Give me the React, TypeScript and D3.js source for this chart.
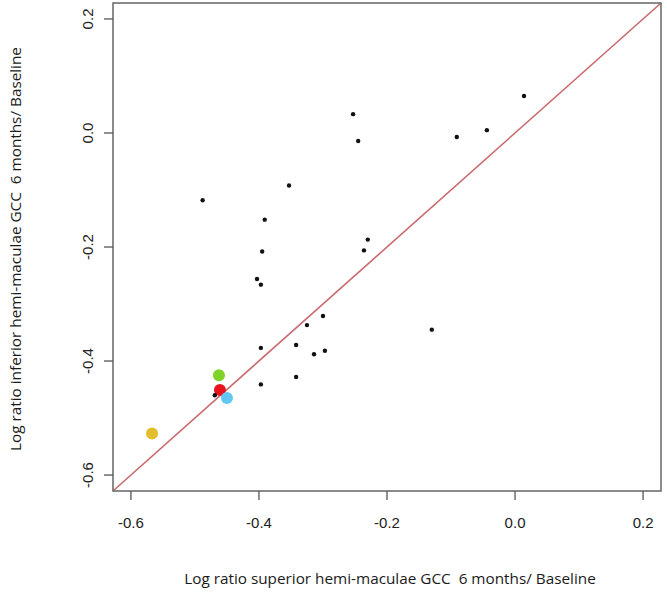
import { scaleLinear, format } from "d3";

// black points: superior (x) vs inferior (y) log ratios
const superiorValues = [
  0.014, -0.253, -0.245, -0.091, -0.044, -0.353, -0.488, -0.391, -0.395,
  -0.23, -0.236, -0.403, -0.397, -0.3, -0.325, -0.13, -0.397, -0.342,
  -0.314, -0.297, -0.342, -0.397,
];
const inferiorValues = [
  0.065, 0.033, -0.014, -0.007, 0.005, -0.092, -0.118, -0.152, -0.208,
  -0.187, -0.206, -0.256, -0.266, -0.321, -0.337, -0.345, -0.377, -0.372,
  -0.388, -0.382, -0.428, -0.441,
];

// highlighted cases, drawn larger
const highlightSuperior = [-0.567, -0.4625, -0.461, -0.469, -0.45];
const highlightInferior = [-0.527, -0.425, -0.451, -0.46, -0.465];
const highlightColors = ["#e2be2e", "#7fd226", "#e8141c", "#111111", "#62c8f2"];
const highlightRadius = [6, 6, 6, 2.2, 6];

const tickValues = [-0.6, -0.4, -0.2, 0.0, 0.2];
const axisLimits = [-0.628, 0.228];

const xTitle = "Log ratio superior hemi-maculae GCC  6 months/ Baseline";
const yTitle = "Log ratio inferior hemi-maculae GCC  6 months/ Baseline";

export default function App() {
  const width = 667;
  const height = 594;
  const left = 113;
  const right = 661;
  const top = 3;
  const bottom = 491;

  const x = scaleLinear().domain(axisLimits).range([left, right]);
  const y = scaleLinear().domain(axisLimits).range([bottom, top]);
  const fmt = (v: number) => format(".1f")(v).replace("\u2212", "-");

  return (
    <svg
      width={width}
      height={height}
      style={{ position: "absolute", left: 0, top: 0, background: "#fff" }}
    >
      {/* identity line */}
      <line
        x1={x(axisLimits[0])}
        y1={y(axisLimits[0])}
        x2={x(axisLimits[1])}
        y2={y(axisLimits[1])}
        stroke="#c96a6e"
        strokeWidth={1.6}
      />

      {superiorValues.map((v, i) => (
        <circle key={i} cx={x(v)} cy={y(inferiorValues[i])} r={2.2} fill="#111" />
      ))}

      {highlightSuperior.map((v, i) => (
        <circle
          key={"h" + i}
          cx={x(v)}
          cy={y(highlightInferior[i])}
          r={highlightRadius[i]}
          fill={highlightColors[i]}
        />
      ))}

      <rect
        x={left}
        y={top}
        width={right - left}
        height={bottom - top}
        fill="none"
        stroke="#666"
        strokeWidth={1.5}
      />

      {/* x axis */}
      {tickValues.map((t) => (
        <g key={"x" + t} transform={`translate(${x(t)},${bottom})`}>
          <line y1={0} y2={9} stroke="#555" strokeWidth={1.3} />
          <text
            y={37}
            textAnchor="middle"
            fontFamily="Liberation Sans, Arial, sans-serif"
            fontSize={15}
            fill="#222"
          >
            {fmt(t)}
          </text>
        </g>
      ))}

      {/* y axis */}
      {tickValues.map((t) => (
        <g key={"y" + t} transform={`translate(${left},${y(t)})`}>
          <line x1={0} x2={-9} stroke="#555" strokeWidth={1.3} />
          <text
            transform="translate(-20,0) rotate(-90)"
            textAnchor="middle"
            fontFamily="Liberation Sans, Arial, sans-serif"
            fontSize={15}
            fill="#222"
          >
            {fmt(t)}
          </text>
        </g>
      ))}

      <text
        x={(left + right) / 2 + 3}
        y={584}
        textAnchor="middle"
        fontFamily="Open Sans, sans-serif"
        fontSize={15.3}
        fill="#1a1a1a"
        style={{ whiteSpace: "pre" }}
      >
        {xTitle}
      </text>
      <text
        transform={`translate(21,${(top + bottom) / 2 + 2}) rotate(-90)`}
        textAnchor="middle"
        fontFamily="Open Sans, sans-serif"
        fontSize={15.3}
        fill="#1a1a1a"
        style={{ whiteSpace: "pre" }}
      >
        {yTitle}
      </text>
    </svg>
  );
}
